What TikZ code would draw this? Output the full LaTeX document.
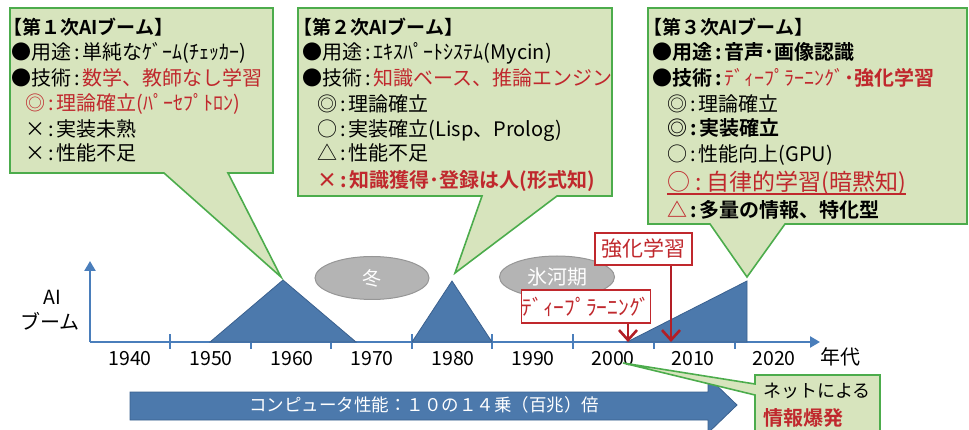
\documentclass[tikz,border=0pt]{standalone}
\usepackage{fontspec}
\setmainfont{Noto Sans CJK JP}[BoldFont={Noto Sans CJK JP Bold}]
\usetikzlibrary{arrows.meta,shapes.geometric}
\definecolor{cfill}{RGB}{215,228,189}
\definecolor{cline}{RGB}{76,172,76}
\definecolor{bfill}{RGB}{76,121,172}
\definecolor{bline}{RGB}{58,96,142}
\definecolor{axisc}{RGB}{74,126,187}
\definecolor{redt}{RGB}{192,40,45}
\definecolor{reda}{RGB}{178,30,38}
\definecolor{gfill}{RGB}{180,180,180}
\definecolor{gline}{RGB}{150,150,150}
\newcommand\myfs[1]{\fontsize{#1}{#1}\selectfont}
\newcommand\rd[1]{\textcolor{redt}{#1}}
\newcommand\mk[1]{\makebox[1em][c]{#1}}
\newcommand\cl{\hspace{3pt}:\hspace{3pt}}
\begin{document}
\begin{tikzpicture}[x=1pt,y=-1pt,
  txt/.style={anchor=base west,inner sep=0pt,font=\myfs{20}},
  yr/.style={anchor=base,inner sep=0pt,font=\myfs{19.5}},
  callout/.style={fill=cfill,draw=cline,line width=1.6pt,line join=miter},
  boom/.style={fill=bfill,draw=bline,line width=0.8pt},
  axisline/.style={draw=axisc,line width=2.8pt},
  tickmark/.style={draw=axisc,line width=2.2pt},
  era/.style={ellipse,draw=gline,fill=gfill,line width=1pt,inner sep=0pt,text=white,font=\myfs{19}},
  redbox/.style={draw=redt,fill=white,line width=1.5pt,inner sep=0pt,text=redt},
  redarr/.style={draw=reda,line width=2.6pt,-{Straight Barb[length=10pt,width=18pt]}}]
\clip (0,0) rectangle (969,430);
\useasboundingbox (0,0) rectangle (969,430);

% era ellipses
\node[era,minimum width=114pt,minimum height=43pt] (winter) at (372,278) {冬};
\node[era,minimum width=115pt,minimum height=42pt,font=\myfs{20}] (iceage) at (557,277) {氷河期};

% axes
\coordinate (origin) at (90,342);
\coordinate (ytop) at (90,261);
\coordinate (xend) at (820,342);
\draw[axisline,-{Triangle[length=10pt,width=11pt]}] (origin) -- (ytop);
\draw[axisline,-{Triangle[length=10pt,width=11pt]}] (origin) -- (xend);
\foreach \t in {170,251,331,412,492,573,654,735}{
  \draw[tickmark] (\t,334) -- (\t,349);
}

% booms
\fill[boom] (210,342) -- (283,280) -- (356,342) -- cycle;
\fill[boom] (412,342) -- (452,281) -- (492,342) -- cycle;
\fill[boom] (627,342) -- (747,281) -- (747,342) -- cycle;

% year labels
\node[yr] (y1940) at (130,365) {1940};
\node[yr] (y1950) at (211,365) {1950};
\node[yr] (y1960) at (292,365) {1960};
\node[yr] (y1970) at (372,365) {1970};
\node[yr] (y1980) at (453,365) {1980};
\node[yr] (y1990) at (533,365) {1990};
\node[yr] (y2000) at (613,365) {2000};
\node[yr] (y2010) at (693,365) {2010};
\node[yr] (y2020) at (774,365) {2020};
\node[txt] (nendai) at (820,364) {年代};
\node[yr] (ailab) at (52,305) {AI};
\node[yr,font=\myfs{20}] (boomlab) at (50,330) {ブーム};

% red markers
\node[redbox,minimum width=128pt,minimum height=33pt,font=\myfs{21.5}] (dl) at (586,306.5) {ﾃﾞｨｰﾌﾟﾗｰﾆﾝｸﾞ};
\node[redbox,minimum width=97pt,minimum height=32pt,font=\myfs{21}] (rl) at (643.5,249) {強化学習};
\coordinate (dlend) at (628,342);
\coordinate (rlend) at (671,342);
\draw[redarr] (dl.south -| dlend) -- (dlend);
\draw[redarr] (rl.south -| rlend) -- (rlend);

% callout 1
\path[callout] (10,8) -- (273,8) -- (273,173) -- (228,173) -- (281,277) -- (164,173) -- (10,173) -- cycle;
\node[txt,font=\myfs{19}\bfseries] (c1h) at (3,35) {【第１次AIブーム】};
\node[txt] (c1a) at (11,60) {●用途\cl 単純なｹﾞｰﾑ(ﾁｪｯｶｰ)};
\node[txt] (c1b) at (11,86) {●技術\cl\rd{数学、教師なし学習}};
\node[txt] (c1c) at (25,111) {\rd{\mk{◎}\cl 理論確立(ﾊﾟｰｾﾌﾟﾄﾛﾝ)}};
\node[txt] (c1d) at (25,137) {\mk{×}\cl 実装未熟};
\node[txt] (c1e) at (25,161) {\mk{×}\cl 性能不足};

% callout 2
\path[callout] (298,8) -- (612,8) -- (612,196) -- (557,196) -- (455,273) -- (482,196) -- (298,196) -- cycle;
\node[txt,font=\myfs{19}\bfseries] (c2h) at (293,35) {【第２次AIブーム】};
\node[txt] (c2a) at (302,60) {●用途\cl ｴｷｽﾊﾟｰﾄｼｽﾃﾑ(Mycin)};
\node[txt] (c2b) at (302,86) {●技術\cl\rd{知識ベース、推論エンジン}};
\node[txt] (c2c) at (317,112) {\mk{◎}\cl 理論確立};
\node[txt] (c2d) at (317,137) {\mk{○}\cl 実装確立(Lisp、Prolog)};
\node[txt] (c2e) at (317,161) {\mk{△}\cl 性能不足};
\node[txt,font=\myfs{20}\bfseries] (c2f) at (317,188) {\rd{\mk{×}\cl 知識獲得･登録は人(形式知)}};

% callout 3
\path[callout] (648,8) -- (967,8) -- (967,224) -- (785,224) -- (747,277) -- (710,224) -- (648,224) -- cycle;
\node[txt,font=\myfs{19}\bfseries] (c3h) at (643,35) {【第３次AIブーム】};
\node[txt,font=\myfs{20}\bfseries] (c3a) at (652,60) {●用途\cl 音声･画像認識};
\node[txt] (c3b) at (652,86) {\textbf{●技術\cl}\rd{ﾃﾞｨｰﾌﾟﾗｰﾆﾝｸﾞ\textbf{･強化学習}}};
\node[txt] (c3c) at (667,112) {\mk{◎}\cl 理論確立};
\node[txt,font=\myfs{20}\bfseries] (c3d) at (667,136) {\mk{◎}\cl 実装確立};
\node[txt] (c3e) at (667,162) {\mk{○}\cl 性能向上(GPU)};
\node[txt,font=\myfs{23}] (c3f) at (667,191) {\rd{\mk{○}\hspace{5pt}:\hspace{5pt}自律的学習(暗黙知)}};
\draw[redt,line width=1.2pt] ([yshift=-3pt]c3f.base west) -- ([yshift=-3pt]c3f.base east);
\node[txt,font=\myfs{20}\bfseries] (c3g) at (667,218) {\rd{\mk{△}}\cl 多量の情報、特化型};

% computer performance arrow
\path[fill=bfill,draw=bline,line width=0.8pt] (130,392) -- (708,392) -- (708,377) -- (737,405) -- (708,433) -- (708,420) -- (130,420) -- cycle;
\node[inner sep=0pt,text=white,font=\myfs{17.5}] (perf) at (424,405) {コンピュータ性能：１０の１４乗（百兆）倍};

% callout 4
\path[callout] (755,375) -- (880,375) -- (880,434) -- (755,434) -- (755,395) -- (623,363) -- (755,384) -- cycle;
\node[txt,font=\myfs{18}] (net1) at (763,397) {ネットによる};
\node[txt,font=\myfs{20}\bfseries] (net2) at (763,425) {\rd{情報爆発}};
\end{tikzpicture}
\end{document}
